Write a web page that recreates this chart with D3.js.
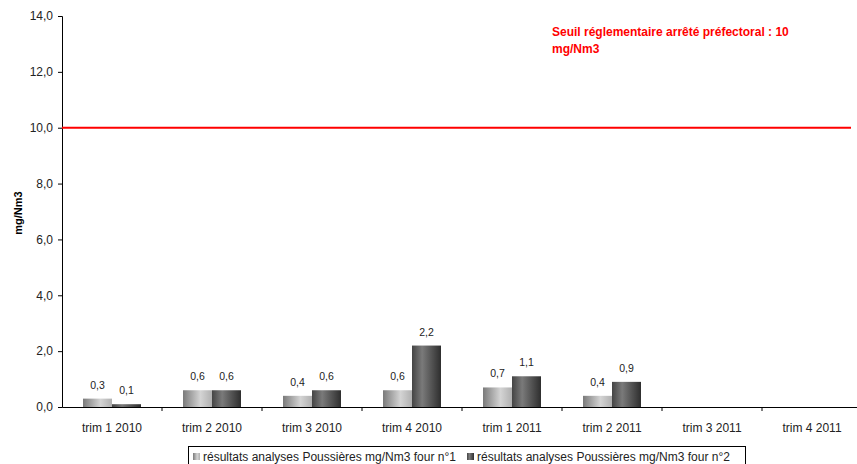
<!DOCTYPE html>
<html lang="fr">
<head>
<meta charset="utf-8">
<title>Poussières</title>
<script src="https://d3js.org/d3.v7.min.js"></script>
<style>
  body { margin: 0; background: #fff; }
  text { font-family: Arial, "Liberation Sans", sans-serif; }
</style>
</head>
<body>
<script>
var categories = ["trim 1 2010", "trim 2 2010", "trim 3 2010", "trim 4 2010",
                  "trim 1 2011", "trim 2 2011", "trim 3 2011", "trim 4 2011"];
var four1 = [0.3, 0.6, 0.4, 0.6, 0.7, 0.4, null, null];
var four2 = [0.1, 0.6, 0.6, 2.2, 1.1, 0.9, null, null];
var seriesNames = ["résultats analyses Poussières mg/Nm3 four n°1",
                   "résultats analyses Poussières mg/Nm3 four n°2"];
var yTicks = [0, 2, 4, 6, 8, 10, 12, 14];
var seuil = 10;

var width = 857, height = 464;
var svg = d3.select("body").append("svg")
  .attr("width", width).attr("height", height);

var defs = svg.append("defs");
var g1 = defs.append("linearGradient").attr("id", "grad1");
g1.append("stop").attr("offset", "0%").attr("stop-color", "#7a7a7a");
g1.append("stop").attr("offset", "60%").attr("stop-color", "#d4d4d4");
g1.append("stop").attr("offset", "100%").attr("stop-color", "#b0b0b0");
var g2 = defs.append("linearGradient").attr("id", "grad2");
g2.append("stop").attr("offset", "0%").attr("stop-color", "#444");
g2.append("stop").attr("offset", "35%").attr("stop-color", "#7a7a7a");
g2.append("stop").attr("offset", "100%").attr("stop-color", "#2e2e2e");

var x = d3.scaleBand().domain(categories).range([62, 862]);
var y = d3.scaleLinear().domain([0, 14]).range([407, 16]);
var barW = 29;

// axes
var yAxis = svg.append("g").attr("transform", "translate(62,0)")
  .call(d3.axisLeft(y).tickValues(yTicks).tickSize(4)
    .tickFormat(function(d) { return d.toFixed(1).replace(".", ","); }));
yAxis.selectAll("text").attr("font-size", 12).attr("fill", "#222").attr("dx", -2);
yAxis.select(".domain").attr("stroke", "#000");

var xAxis = svg.append("g").attr("transform", "translate(0,407)")
  .call(d3.axisBottom(x).tickSize(0).tickPadding(16));
xAxis.select(".domain").attr("stroke", "#000");
xAxis.selectAll("text").attr("font-size", 12).attr("fill", "#222");
svg.append("g").selectAll("line")
  .data(categories.slice(1)).enter().append("line")
  .attr("x1", function(d) { return x(d); }).attr("x2", function(d) { return x(d); })
  .attr("y1", 407).attr("y2", 411).attr("stroke", "#000");

// bars
var series = [four1, four2];
series.forEach(function(vals, si) {
  var gS = svg.append("g");
  var data = categories.map(function(c, i) { return { c: c, v: vals[i] }; })
    .filter(function(d) { return d.v != null; });
  gS.selectAll("rect").data(data).enter().append("rect")
    .attr("x", function(d) { return x(d.c) + x.bandwidth() / 2 - barW + si * barW; })
    .attr("y", function(d) { return y(d.v); })
    .attr("width", barW)
    .attr("height", function(d) { return y(0) - y(d.v); })
    .attr("fill", "url(#grad" + (si + 1) + ")");
  gS.selectAll("text").data(data).enter().append("text")
    .attr("x", function(d) { return x(d.c) + x.bandwidth() / 2 - barW / 2 + si * barW; })
    .attr("y", function(d) { return y(d.v) - 10; })
    .attr("text-anchor", "middle").attr("font-size", 10.5).attr("fill", "#222")
    .text(function(d) { return String(d.v).replace(".", ","); });
});

// threshold
svg.append("line")
  .attr("x1", 62).attr("x2", 851)
  .attr("y1", y(seuil)).attr("y2", y(seuil))
  .attr("stroke", "#ff0000").attr("stroke-width", 2);
svg.append("text").attr("x", 552).attr("y", 36)
  .attr("font-size", 12).attr("font-weight", "bold").attr("fill", "#ff0000")
  .text("Seuil réglementaire arrêté préfectoral : 10");
svg.append("text").attr("x", 552).attr("y", 53)
  .attr("font-size", 12).attr("font-weight", "bold").attr("fill", "#ff0000")
  .text("mg/Nm3");

// y label
svg.append("text")
  .attr("transform", "translate(22,213) rotate(-90)")
  .attr("text-anchor", "middle").attr("font-size", 11).attr("font-weight", "bold")
  .text("mg/Nm3");

// legend
svg.append("rect").attr("x", 188.5).attr("y", 446.5).attr("width", 557).attr("height", 24)
  .attr("fill", "#fff").attr("stroke", "#000");
var lx = [193, 467];
seriesNames.forEach(function(n, i) {
  svg.append("rect").attr("x", lx[i]).attr("y", 453).attr("width", 7).attr("height", 7)
    .attr("fill", "url(#grad" + (i + 1) + ")");
  svg.append("text").attr("x", lx[i] + 10).attr("y", 461)
    .attr("font-size", 12).attr("fill", "#222").text(n);
});
</script>
</body>
</html>
